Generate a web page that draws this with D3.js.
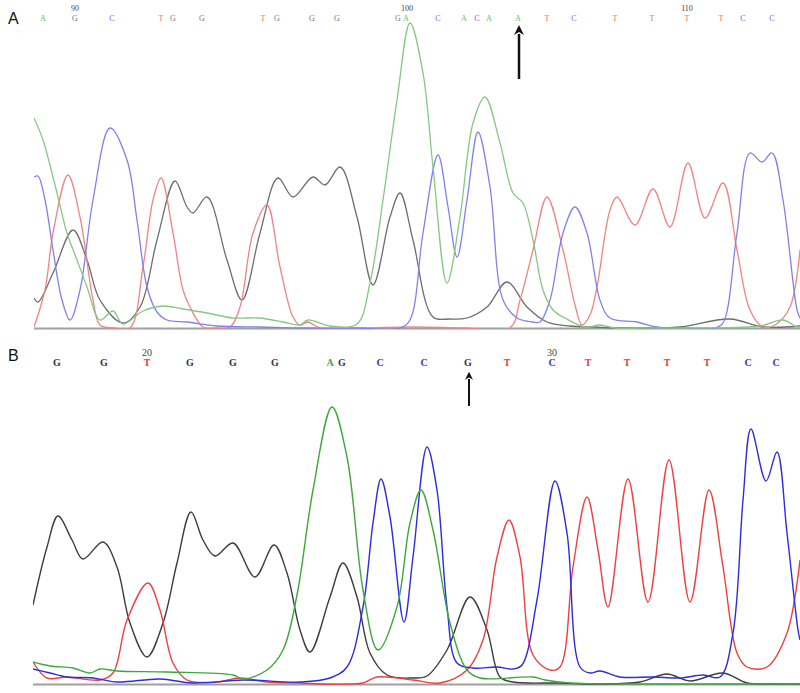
<!DOCTYPE html>
<html>
<head>
<meta charset="utf-8">
<script src="https://cdn.jsdelivr.net/npm/d3@7/dist/d3.min.js"></script>
<style>
  body { margin: 0; background: #fff; }
  svg { display: block; }
</style>
</head>
<body>
<div id="chart"></div>
<script>
// trace data: [scan position, signal]
var aGreen = [[0,210],[9,188],[23,135],[33,95],[43,68],[53,41],[66,8],[79,17],[89,4],[109,17],[129,22],[149,19],[173,15],[199,10],[226,10],[249,6],[266,3],[274,8],[296,2],[323,4],[336,45],[349,128],[363,228],[376,305],[389,255],[399,161],[413,45],[426,111],[439,205],[451,231],[466,185],[479,135],[489,125],[499,88],[509,38],[519,18],[531,10],[551,1],[566,3],[581,0],[620,0],[666,0],[726,2],[749,8],[763,1],[766,1]];
var aBlue = [[0,151],[4,152],[11,128],[19,78],[28,28],[36,8],[46,38],[59,128],[76,200],[93,168],[103,108],[113,41],[123,16],[133,8],[153,6],[183,2],[226,1],[270,0],[320,0],[366,0],[376,8],[389,95],[404,173],[414,121],[423,71],[433,128],[444,196],[456,141],[469,28],[483,10],[499,6],[506,6],[516,28],[529,95],[541,121],[553,95],[566,28],[576,10],[603,6],[623,1],[650,0],[681,0],[689,5],[703,95],[716,175],[728,166],[738,175],[749,128],[763,18],[766,10]];
var aRed = [[0,1],[11,38],[19,95],[34,153],[46,111],[59,28],[66,3],[80,0],[96,0],[109,61],[119,128],[127,150],[139,95],[149,38],[156,21],[169,1],[182,0],[196,1],[206,21],[219,95],[233,123],[246,61],[259,11],[266,3],[274,6],[286,0],[330,0],[380,1],[430,0],[476,0],[486,28],[499,78],[513,131],[529,78],[541,23],[548,3],[556,13],[563,41],[576,118],[583,131],[601,103],[619,139],[636,101],[654,165],[671,110],[689,145],[703,78],[716,18],[729,1],[741,3],[756,21],[766,78]];
var aBlack = [[0,30],[4,26],[19,55],[39,98],[53,68],[66,28],[89,5],[106,21],[123,88],[141,147],[153,121],[159,115],[173,131],[193,68],[208,28],[226,95],[244,150],[259,131],[279,151],[291,143],[306,161],[323,111],[339,43],[356,111],[366,135],[379,88],[399,11],[416,9],[433,10],[453,21],[473,46],[493,21],[513,6],[536,2],[560,1],[586,0],[616,0],[646,1],[696,9],[729,1],[766,2]];

var bGreen = [[0,22],[17,18],[40,16],[57,11],[67,15],[84,13],[134,12],[200,9],[210,5],[234,14],[250,34],[264,89],[280,194],[299,277],[314,227],[330,94],[345,34],[364,77],[377,161],[388,194],[400,154],[417,61],[434,14],[447,6],[500,7],[512,4],[537,1],[600,0],[680,0],[767,0]];
var bBlue = [[0,15],[17,11],[34,7],[60,6],[84,2],[127,5],[160,1],[210,4],[267,2],[297,6],[314,17],[330,77],[340,161],[348,205],[357,167],[371,62],[380,127],[394,237],[404,194],[414,77],[424,21],[440,16],[464,17],[480,15],[489,19],[504,84],[522,203],[534,151],[547,17],[557,11],[567,13],[587,7],[620,7],[647,6],[670,9],[687,7],[700,51],[710,184],[718,255],[733,203],[744,232],[754,151],[765,54],[767,44]];
var bRed = [[0,22],[14,6],[34,7],[67,4],[80,11],[94,64],[115,101],[127,74],[140,21],[154,4],[184,2],[207,6],[234,2],[267,1],[292,0],[317,0],[330,1],[344,7],[380,4],[407,1],[434,14],[450,44],[464,127],[476,164],[487,127],[500,29],[517,14],[527,17],[540,117],[554,187],[565,134],[575,77],[595,205],[615,82],[636,224],[657,82],[676,194],[690,117],[704,31],[714,17],[734,17],[754,51],[767,124]];
var bBlack = [[0,79],[14,137],[25,168],[39,144],[50,125],[70,142],[84,117],[97,61],[114,27],[130,61],[144,121],[158,172],[170,144],[182,128],[200,141],[222,107],[241,139],[254,111],[267,54],[277,32],[297,87],[310,121],[324,87],[337,31],[354,9],[380,6],[394,8],[414,34],[437,87],[454,54],[467,7],[480,2],[527,1],[567,0],[607,2],[634,10],[657,3],[690,11],[714,1],[740,0],[767,0]];

// base calls and where they sit along the trace
var aBases = ['A','G','C','T','G','G','T','G','G','G','G','A','C','A','C','A','A','T','C','T','T','T','T','C','C'];
var aBasePos = [9,41,78,127,139,168,229,243,278,303,364,372,404,430,443,455,484,513,540,581,618,653,687,709,738];
var aTicks = ['90','100','110'];
var aTickPos = [41,373,653];
var aArrowPos = 485;

var bBases = ['G','G','T','G','G','G','A','G','C','C','G','T','C','T','T','T','T','C','C'];
var bBasePos = [24,71,114,157,200,242,297,309,347,391,435,474,519,555,594,634,674,715,743];
var bTicks = ['20','30'];
var bTickPos = [114,519];
var bArrowPos = 436;

var width = 800, height = 693;

var svg = d3.select('#chart').append('svg')
    .attr('width', width)
    .attr('height', height);

svg.append('defs').append('marker')
    .attr('id', 'head')
    .attr('viewBox', '0 0 10 10')
    .attr('refX', 1)
    .attr('refY', 5)
    .attr('markerWidth', 4)
    .attr('markerHeight', 4)
    .attr('orient', 'auto')
  .append('path')
    .attr('d', 'M0,0 L10,5 L0,10 L3,5 Z')
    .style('fill', '#111');

function drawPanel(p) {
  var x = d3.scaleLinear().domain([0, p.xMax]).range([p.left, 800]);
  var y = d3.scaleLinear().domain([0, p.yMax]).range([p.base, p.top]);

  var g = svg.append('g');

  // clip so spline wiggles never dip under the baseline
  var clipId = 'clip' + p.label;
  g.append('clipPath').attr('id', clipId)
    .append('rect')
      .attr('x', p.left).attr('y', p.top - 10)
      .attr('width', 800 - p.left).attr('height', p.base - p.top + 11);

  g.append('line')
      .attr('x1', x(0)).attr('x2', x(p.xMax))
      .attr('y1', y(0) + 0.5).attr('y2', y(0) + 0.5)
      .style('stroke', '#a0a0a0')
      .style('stroke-width', 2);

  var line = d3.line()
      .x(function(d) { return x(d[0]); })
      .y(function(d) { return y(d[1]); })
      .curve(d3.curveCatmullRom.alpha(0.5));

  p.traces.forEach(function(t) {
    g.append('path')
        .datum(t.data)
        .attr('d', line)
        .attr('clip-path', 'url(#' + clipId + ')')
        .style('fill', 'none')
        .style('stroke', t.color)
        .style('stroke-width', p.lineWidth);
  });

  g.selectAll('.base')
      .data(p.bases)
    .enter().append('text')
      .attr('x', function(d, i) { return x(p.basePos[i]); })
      .attr('y', p.letterY)
      .attr('text-anchor', 'middle')
      .style('font-family', '"Liberation Serif", "DejaVu Serif", serif')
      .style('font-size', p.letterSize + 'px')
      .style('font-weight', p.letterWeight)
      .style('fill', function(d) { return p.baseColor[d]; })
      .text(function(d) { return d; });

  g.selectAll('.tick')
      .data(p.ticks)
    .enter().append('text')
      .attr('x', function(d, i) { return x(p.tickPos[i]); })
      .attr('y', p.tickY)
      .attr('text-anchor', 'middle')
      .style('font-family', '"Liberation Serif", "DejaVu Serif", serif')
      .style('font-size', p.tickSize + 'px')
      .style('fill', '#444')
      .text(function(d) { return d; });

  g.append('line')
      .attr('x1', x(p.arrowPos)).attr('x2', x(p.arrowPos))
      .attr('y1', p.arrowY[1]).attr('y2', p.arrowY[0] + 6)
      .attr('marker-end', 'url(#head)')
      .style('stroke', '#111')
      .style('stroke-width', p.arrowWidth);

  g.append('text')
      .attr('x', 8)
      .attr('y', p.labelY)
      .style('font-family', 'Arial, "Liberation Sans", sans-serif')
      .style('font-size', '16px')
      .style('fill', '#111')
      .text(p.label);
}

drawPanel({
  label: 'A', labelY: 24,
  left: 34, base: 328, top: 18, xMax: 766, yMax: 310,
  lineWidth: 1.3,
  traces: [
    {data: aBlack, color: '#6e6e6e'},
    {data: aRed, color: '#f08484'},
    {data: aBlue, color: '#8080ee'},
    {data: aGreen, color: '#84c884'}
  ],
  bases: aBases, basePos: aBasePos, letterY: 21, letterSize: 8, letterWeight: 'normal',
  baseColor: {A: '#5fb85f', C: '#6a6ae0', G: '#777', T: '#e86a6a'},
  ticks: aTicks, tickPos: aTickPos, tickY: 11, tickSize: 8,
  arrowPos: aArrowPos, arrowY: [28, 79], arrowWidth: 2.5
});

drawPanel({
  label: 'B', labelY: 361,
  left: 33, base: 684, top: 394, xMax: 767, yMax: 290,
  lineWidth: 1.4,
  traces: [
    {data: bBlack, color: '#3c3c3c'},
    {data: bRed, color: '#ee4040'},
    {data: bBlue, color: '#2c2ce0'},
    {data: bGreen, color: '#3ca83c'}
  ],
  bases: bBases, basePos: bBasePos, letterY: 366, letterSize: 10, letterWeight: 'bold',
  baseColor: {A: '#3ca83c', C: '#3434d8', G: '#333', T: '#e03a3a'},
  ticks: bTicks, tickPos: bTickPos, tickY: 356, tickSize: 10,
  arrowPos: bArrowPos, arrowY: [373, 406], arrowWidth: 2
});
</script>
</body>
</html>
